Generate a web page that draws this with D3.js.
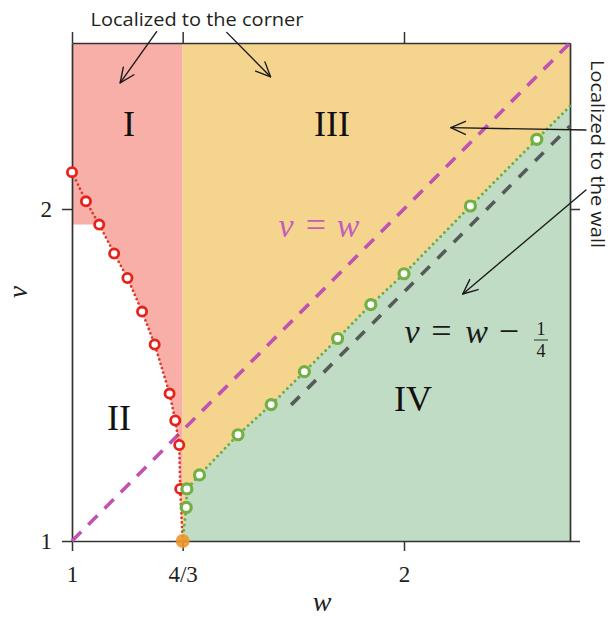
<!DOCTYPE html>
<html>
<head>
<meta charset="utf-8">
<script src="https://cdn.jsdelivr.net/npm/d3@7"></script>
<style>
  html, body { margin: 0; padding: 0; background: #fff; }
  svg { display: block; }
</style>
</head>
<body>
<svg id="chart" width="610" height="620"></svg>
<script>
// Boundary between regions I and II (open red circles), from the top-left corner downward
const cornerBoundaryW = [1.000, 1.042, 1.082, 1.127, 1.167, 1.211, 1.249, 1.294, 1.311, 1.323, 1.326];
const cornerBoundaryV = [2.111, 2.023, 1.953, 1.866, 1.792, 1.691, 1.592, 1.444, 1.363, 1.289, 1.157];

// Boundary between regions III and IV (open green circles)
const wallBoundaryW = [1.344, 1.346, 1.384, 1.500, 1.600, 1.700, 1.800, 1.900, 2.000, 2.200, 2.400];
const wallBoundaryV = [1.101, 1.157, 1.199, 1.320, 1.411, 1.510, 1.610, 1.712, 1.805, 2.009, 2.210];

// Where the III/IV boundary meets the right edge
const wallBoundaryEnd = [2.5, 2.31];

// Triple point where both boundaries start
const criticalPoint = [4 / 3, 1];

// Reference lines v = w and v = w - 1/4
const diagonalW = [1, 2.5];
const shiftedLineW = [1.66, 2.5];
const shift = 0.25;

// Axis ticks
const wTicks = [1, 4 / 3, 2];
const wTickLabels = ["1", "4/3", "2"];
const vTicks = [1, 2];
const vTickLabels = ["1", "2"];

const regionNames = ["I", "II", "III", "IV"];

const x = d3.scaleLinear().domain([1, 2.5]).range([72, 570]);
const y = d3.scaleLinear().domain([1, 2.5]).range([541, 43]);
const [wMin, wMax] = x.domain();
const [vMin, vMax] = y.domain();

const svg = d3.select("#chart");
const serif = "'Liberation Serif', 'Times New Roman', serif";
const sans = "'Open Sans', 'Noto Sans', sans-serif";

const line = d3.line().x(d => x(d[0])).y(d => y(d[1]));
const polygon = pts => line(pts) + "Z";

const cornerPts = cornerBoundaryW.map((w, i) => [w, cornerBoundaryV[i]]);
const wallPts = wallBoundaryW.map((w, i) => [w, wallBoundaryV[i]]);

// ---- Region fills ----
const regionI = [[wMin, vMax], [wMin, cornerPts[2][1]], ...cornerPts.slice(2), criticalPoint, [criticalPoint[0], vMax]];
const regionIII = [criticalPoint, [criticalPoint[0], vMax], [wMax, vMax], wallBoundaryEnd, ...wallPts.slice().reverse()];
const regionIV = [criticalPoint, ...wallPts, wallBoundaryEnd, [wMax, vMin]];

svg.append("path").attr("d", polygon(regionI)).attr("fill", "#f8afa8");
svg.append("path").attr("d", polygon(regionIII)).attr("fill", "#f5d58e");
svg.append("path").attr("d", polygon(regionIV)).attr("fill", "#c1dcc4");

// ---- Axes (closed frame) ----
function styleAxis(g) {
  g.attr("font-family", serif);
  g.select(".domain").attr("stroke", "#333").attr("stroke-width", 1.7);
  g.selectAll(".tick line").attr("stroke", "#333").attr("stroke-width", 1.5);
  g.selectAll(".tick text").attr("font-family", serif).attr("font-size", 23).attr("fill", "#222");
}
svg.append("g").attr("transform", `translate(0,${y(vMin)})`)
  .call(d3.axisBottom(x).tickValues(wTicks).tickSize(10).tickSizeOuter(0).tickPadding(15)
    .tickFormat((d, i) => wTickLabels[i]))
  .call(styleAxis);
svg.append("g").attr("transform", `translate(0,${y(vMax)})`)
  .call(d3.axisTop(x).tickValues(wTicks).tickSize(11).tickSizeOuter(0).tickFormat(""))
  .call(styleAxis);
svg.append("g").attr("transform", `translate(${x(wMin)},0)`)
  .call(d3.axisLeft(y).tickValues(vTicks).tickSize(10).tickSizeOuter(0).tickPadding(10)
    .tickFormat((d, i) => vTickLabels[i]))
  .call(styleAxis);
svg.append("g").attr("transform", `translate(${x(wMax)},0)`)
  .call(d3.axisRight(y).tickValues(vTicks).tickSize(10).tickSizeOuter(0).tickFormat(""))
  .call(styleAxis);

// ---- Reference lines ----
svg.append("path")
  .attr("d", line(diagonalW.map(w => [w, w])))
  .attr("fill", "none").attr("stroke", "#c052b6").attr("stroke-width", 3.6)
  .attr("stroke-dasharray", "13 10");
svg.append("path")
  .attr("d", line(shiftedLineW.map(w => [w, w - shift])))
  .attr("fill", "none").attr("stroke", "#555b5a").attr("stroke-width", 3.6)
  .attr("stroke-dasharray", "12 11");

// ---- Boundary curves ----
svg.append("path")
  .attr("d", line([...cornerPts, criticalPoint]))
  .attr("fill", "none").attr("stroke", "#dc3a2c").attr("stroke-width", 2.8)
  .attr("stroke-linecap", "round").attr("stroke-dasharray", "0 4.6");
svg.append("path")
  .attr("d", line([criticalPoint, ...wallPts, wallBoundaryEnd]))
  .attr("fill", "none").attr("stroke", "#6aae45").attr("stroke-width", 3)
  .attr("stroke-linecap", "round").attr("stroke-dasharray", "0 5.4");

// ---- Markers ----
svg.append("g").selectAll("circle").data(cornerPts).join("circle")
  .attr("cx", d => x(d[0])).attr("cy", d => y(d[1])).attr("r", 4.6)
  .attr("fill", "#fff").attr("stroke", "#e5231b").attr("stroke-width", 2.8);
svg.append("g").selectAll("circle").data(wallPts).join("circle")
  .attr("cx", d => x(d[0])).attr("cy", d => y(d[1])).attr("r", 5)
  .attr("fill", "#fff").attr("stroke", "#72b043").attr("stroke-width", 3.2);
svg.append("circle")
  .attr("cx", x(criticalPoint[0])).attr("cy", y(criticalPoint[1])).attr("r", 7)
  .attr("fill", "#ee962c").attr("fill-opacity", 0.9);

// ---- Region labels ----
const regionAnchors = [[129, 136], [119, 430], [332, 136], [413, 411]];
regionNames.forEach((name, i) => {
  svg.append("text").attr("x", regionAnchors[i][0]).attr("y", regionAnchors[i][1])
    .attr("text-anchor", "middle").attr("font-family", serif).attr("font-size", 36)
    .attr("fill", "#111").text(name);
});

// ---- Line labels ----
const mathText = (g, px, py, str, italic, size, color) =>
  g.append("text").attr("x", px).attr("y", py).attr("text-anchor", "middle")
    .attr("font-family", serif).attr("font-size", size)
    .attr("font-style", italic ? "italic" : "normal")
    .attr("fill", color).text(str);

const diagLabel = svg.append("g");
mathText(diagLabel, 286, 237, "v", true, 34, "#c45ebd");
mathText(diagLabel, 316, 237, "=", false, 36, "#c45ebd");
mathText(diagLabel, 348, 237, "w", true, 34, "#c45ebd");

const shiftLabel = svg.append("g");
mathText(shiftLabel, 412, 343, "v", true, 34, "#1a1a1a");
mathText(shiftLabel, 441.5, 343, "=", false, 36, "#1a1a1a");
mathText(shiftLabel, 476.5, 343, "w", true, 34, "#1a1a1a");
mathText(shiftLabel, 509, 343, "\u2212", false, 36, "#1a1a1a");
mathText(shiftLabel, 541, 335, "1", false, 18, "#1a1a1a");
mathText(shiftLabel, 541, 357, "4", false, 18, "#1a1a1a");
shiftLabel.append("line").attr("x1", 534).attr("x2", 548).attr("y1", 340).attr("y2", 340)
  .attr("stroke", "#1a1a1a").attr("stroke-width", 0.9);

// ---- Axis titles ----
svg.append("text").attr("x", 322).attr("y", 611).attr("text-anchor", "middle")
  .attr("font-family", serif).attr("font-style", "italic").attr("font-size", 28)
  .attr("fill", "#222").text("w");
svg.append("text").attr("transform", "translate(27,292) rotate(-90)").attr("text-anchor", "middle")
  .attr("font-family", serif).attr("font-style", "italic").attr("font-size", 27)
  .attr("fill", "#222").text("v");

// ---- Annotations ----
const arrows = [
  [[1.255, 2.534], [1.145, 2.380]],
  [[1.466, 2.532], [1.598, 2.398]],
  [[2.548, 2.238], [2.141, 2.245]],
  [[2.548, 2.057], [2.177, 1.744]]
];
const ann = svg.append("g").attr("stroke", "#1a1a1a").attr("stroke-width", 1.4)
  .attr("fill", "none").attr("stroke-linecap", "round").attr("stroke-linejoin", "round");
arrows.forEach(([a, b]) => {
  const x1 = x(a[0]), y1 = y(a[1]), x2 = x(b[0]), y2 = y(b[1]);
  const ang = Math.atan2(y2 - y1, x2 - x1);
  const len = 16, spread = 0.42;
  const p1 = [x2 - len * Math.cos(ang - spread), y2 - len * Math.sin(ang - spread)];
  const p2 = [x2 - len * Math.cos(ang + spread), y2 - len * Math.sin(ang + spread)];
  ann.append("path").attr("d", `M${x1},${y1}L${x2},${y2}`);
  ann.append("path").attr("d", `M${p1[0]},${p1[1]}L${x2},${y2}L${p2[0]},${p2[1]}`);
});

svg.append("text").attr("x", 197).attr("y", 26).attr("text-anchor", "middle")
  .attr("font-family", sans).attr("font-size", 19).attr("fill", "#231f20")
  .attr("textLength", 213).attr("lengthAdjust", "spacingAndGlyphs")
  .text("Localized to the corner");
svg.append("text").attr("transform", "translate(591,154) rotate(90)").attr("text-anchor", "middle")
  .attr("font-family", sans).attr("font-size", 19).attr("fill", "#231f20")
  .attr("textLength", 188).attr("lengthAdjust", "spacingAndGlyphs")
  .text("Localized to the wall");
</script>
</body>
</html>
